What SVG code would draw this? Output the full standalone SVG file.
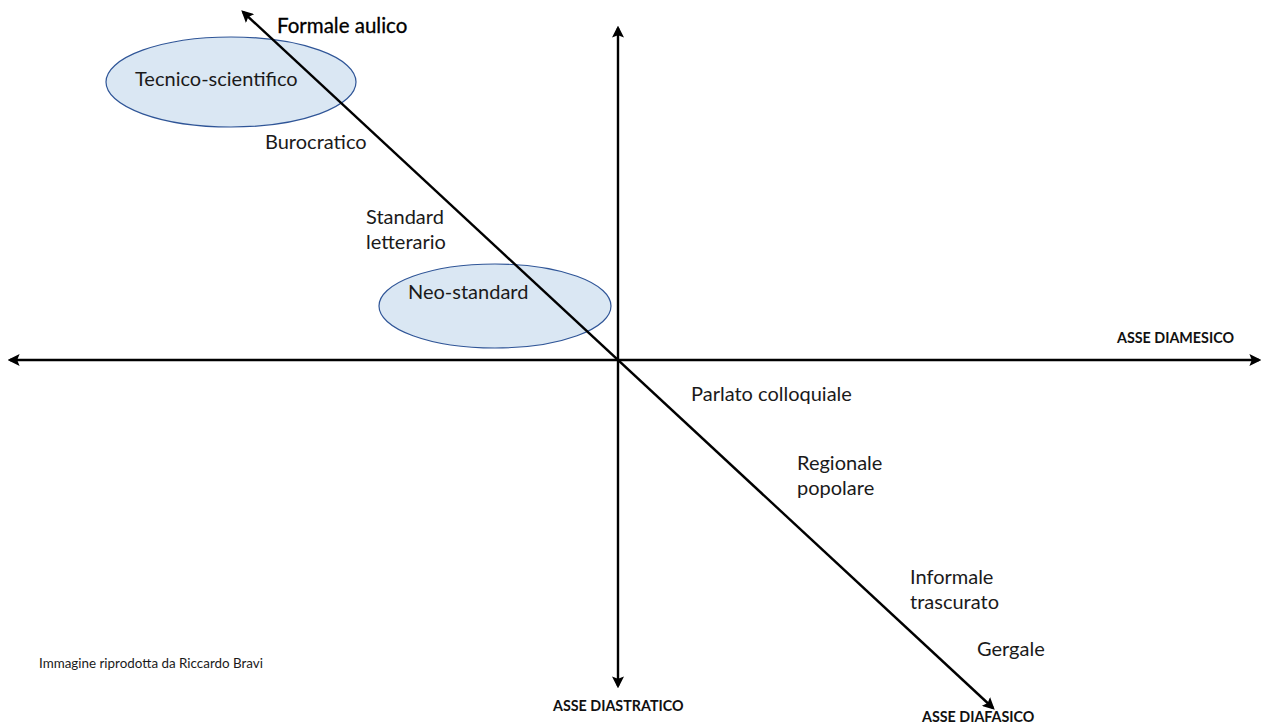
<svg xmlns="http://www.w3.org/2000/svg" width="1263" height="724" viewBox="0 0 1263 724">
<style>
.t{font-family:Lato,"Open Sans","Liberation Sans",sans-serif;font-size:20px;fill:#1a1a1a}
.f{font-family:Lato,"Open Sans","Liberation Sans",sans-serif;font-size:20.5px;fill:#000;stroke:#000;stroke-width:0.3}
.b{font-family:Lato,"Open Sans","Liberation Sans",sans-serif;font-size:14.3px;font-weight:bold;fill:#111}
.s{font-family:Lato,"Open Sans","Liberation Sans",sans-serif;font-size:13.4px;fill:#1a1a1a}
.ax{stroke:#000;stroke-width:2.4;fill:none;marker-start:url(#a);marker-end:url(#a)}
.el{fill:#DAE7F3;stroke:#2F5597;stroke-width:1.2}
</style>
<defs>
<marker id="a" viewBox="0 0 10 10" refX="8" refY="5" markerWidth="5" markerHeight="5" orient="auto-start-reverse" markerUnits="strokeWidth">
<path d="M0,0 L10,5 L0,10 L2,5 z" fill="#000"/>
</marker>
</defs>
<g id="ellipse-tecnico">
<ellipse class="el" cx="231" cy="82" rx="125" ry="45"/>
<text class="t" x="135" y="86">Tecnico-scientifico</text>
</g>
<g id="ellipse-neo">
<ellipse class="el" cx="495" cy="306" rx="116" ry="42"/>
<text class="t" x="408" y="299">Neo-standard</text>
</g>
<g id="connectors">
<line class="ax" x1="10" y1="360" x2="1259" y2="360"/>
<line class="ax" x1="618" y1="686" x2="618" y2="28"/>
<line class="ax" x1="993" y1="708" x2="243" y2="12"/>
</g>
<g id="labels">
<text class="f" x="277" y="33">Formale aulico</text>
<text class="t" x="265" y="149">Burocratico</text>
<text class="t" x="366" y="224">Standard</text>
<text class="t" x="366" y="249">letterario</text>
<text class="b" x="1117" y="343">ASSE DIAMESICO</text>
<text class="t" x="691" y="401">Parlato colloquiale</text>
<text class="t" x="797" y="470">Regionale</text>
<text class="t" x="797" y="495">popolare</text>
<text class="t" x="910" y="584">Informale</text>
<text class="t" x="910" y="609">trascurato</text>
<text class="t" x="977" y="656">Gergale</text>
<text class="s" x="39" y="668">Immagine riprodotta da Riccardo Bravi</text>
<text class="b" x="553" y="711">ASSE DIASTRATICO</text>
<text class="b" x="922" y="722">ASSE DIAFASICO</text>
</g>
</svg>
